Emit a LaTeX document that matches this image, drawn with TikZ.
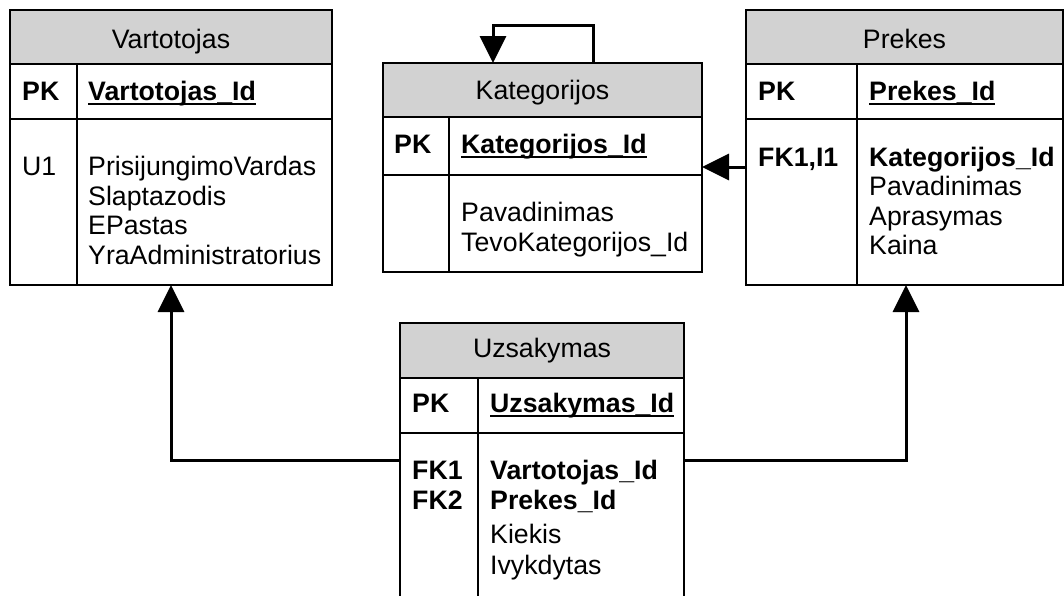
\documentclass[tikz,border=0pt]{standalone}
\usepackage{fontspec}
\setmainfont{Liberation Sans}
\usetikzlibrary{arrows.meta,calc}
\newcommand\ersize{\fontsize{26.7pt}{29.5pt}\selectfont}
% heavy underline for primary key columns
\newcommand\keyul[1]{\setbox0\hbox{#1}\rlap{\rule[-5pt]{\wd0}{2pt}}\box0}
\begin{document}
\begin{tikzpicture}[x=1pt,y=-1pt,
  tbl/.style={draw, line width=1.5pt, anchor=north west, inner sep=0pt, outer sep=0pt,
    path picture={\fill[gray!35] (path picture bounding box.north west)
      rectangle ([yshift=-#1]path picture bounding box.north east);}},
  rule/.style={line width=1.5pt},
  ttl/.style={anchor=base, inner sep=0pt, font=\ersize},
  fld/.style={anchor=base west, inner sep=0pt, font=\ersize},
  key/.style={anchor=base west, inner sep=0pt, font=\ersize\bfseries},
  fk/.style={line width=3pt, -{Triangle[width=26pt,length=27pt]}}]
\clip (0,0) rectangle (1064,595);

% ---------- Vartotojas ----------
\node[tbl=54pt, minimum width=322pt, minimum height=275pt] (vart) at (10,10) {};
\draw[rule] (10,64) -- (332,64);
\draw[rule] (10,119) -- (332,119);
\draw[rule] (77,64) -- (77,285);
\node[ttl] (vart-t) at (171,48) {Vartotojas};
\node[key] (vart-pk) at (22,100) {PK};
\node[key] (vart-id) at (88,100) {\keyul{Vartotojas\_Id}};
\node[fld] (vart-u1) at (22,175.5) {U1};
\node[fld] (vart-f1) at (88,175.5) {PrisijungimoVardas};
\node[fld] (vart-f2) at (88,205) {Slaptazodis};
\node[fld] (vart-f3) at (88,234.5) {EPastas};
\node[fld] (vart-f4) at (88,264) {YraAdministratorius};

% ---------- Kategorijos ----------
\node[tbl=54pt, minimum width=319pt, minimum height=209pt] (kat) at (383,63) {};
\draw[rule] (383,117) -- (702,117);
\draw[rule] (383,175) -- (702,175);
\draw[rule] (449,117) -- (449,272);
\node[ttl] (kat-t) at (542.5,99) {Kategorijos};
\node[key] (kat-pk) at (394,153) {PK};
\node[key] (kat-id) at (461,153) {\keyul{Kategorijos\_Id}};
\node[fld] (kat-f1) at (461,221.5) {Pavadinimas};
\node[fld] (kat-f2) at (461,251) {TevoKategorijos\_Id};

% ---------- Prekes ----------
\node[tbl=54pt, minimum width=317pt, minimum height=275pt] (prek) at (746,10) {};
\draw[rule] (746,64) -- (1063,64);
\draw[rule] (746,119) -- (1063,119);
\draw[rule] (857,64) -- (857,285);
\node[ttl] (prek-t) at (904.5,48) {Prekes};
\node[key] (prek-pk) at (758,100) {PK};
\node[key] (prek-id) at (869,100) {\keyul{Prekes\_Id}};
\node[key] (prek-fk) at (758,166) {FK1,I1};
\node[key] (prek-f1) at (869,166) {Kategorijos\_Id};
\node[fld] (prek-f2) at (869,195.5) {Pavadinimas};
\node[fld] (prek-f3) at (869,225) {Aprasymas};
\node[fld] (prek-f4) at (869,254.5) {Kaina};

% ---------- Uzsakymas ----------
\node[tbl=55pt, minimum width=284pt, minimum height=300pt] (uzs) at (400,323) {};
\draw[rule] (400,378) -- (684,378);
\draw[rule] (400,433) -- (684,433);
\draw[rule] (478,378) -- (478,623);
\node[ttl] (uzs-t) at (542,357) {Uzsakymas};
\node[key] (uzs-pk) at (412,412) {PK};
\node[key] (uzs-id) at (490,412) {\keyul{Uzsakymas\_Id}};
\node[key] (uzs-fk1) at (412,479) {FK1};
\node[key] (uzs-fk2) at (412,509) {FK2};
\node[key] (uzs-f1) at (490,479) {Vartotojas\_Id};
\node[key] (uzs-f2) at (490,509) {Prekes\_Id};
\node[fld] (uzs-f3) at (490,543) {Kiekis};
\node[fld] (uzs-f4) at (490,574) {Ivykdytas};

% ---------- relationships ----------
\draw[fk] ([yshift=-137pt]uzs.north west) -| ([xshift=161pt]vart.south west);
\draw[fk] ([yshift=-137pt]uzs.north east) -| ([xshift=160pt]prek.south west);
\draw[fk] ([yshift=-157pt]prek.north west) -- ([yshift=-104pt]kat.north east);
\draw[fk] ([xshift=210pt]kat.north west) -- ++(0,-38) -| ([xshift=110pt]kat.north west);
\end{tikzpicture}
\end{document}
